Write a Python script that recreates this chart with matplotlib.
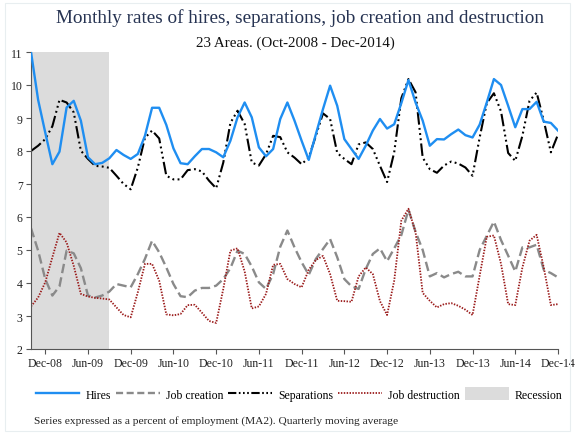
import matplotlib
matplotlib.use("Agg")
import matplotlib.pyplot as plt
from matplotlib.patches import Patch, Rectangle
from matplotlib.lines import Line2D

plt.rcParams['font.family'] = ['Liberation Serif', 'DejaVu Serif']

# monthly index, Oct-2008 = 0 ... Dec-2014 = 74
months = list(range(75))

hires = [11.0, 9.55, 8.56, 7.6, 7.98, 9.32, 9.52, 8.92, 7.81, 7.6,
         7.64, 7.78, 8.03, 7.88, 7.76, 7.91, 8.46, 9.31, 9.31, 8.79,
         8.08, 7.63, 7.6, 7.84, 8.06, 8.06, 7.96, 7.81, 8.31, 9.02,
         9.47, 9.02, 8.11, 7.84, 8.06, 8.97, 9.47, 8.92, 8.31, 7.73,
         8.51, 9.27, 9.98, 9.37, 8.36, 8.06, 7.76, 8.16, 8.62, 8.97,
         8.68, 8.81, 9.45, 10.15, 9.47, 8.92, 8.16, 8.36, 8.35, 8.51,
         8.65, 8.48, 8.41, 8.8, 9.47, 10.18, 10.0, 9.37, 8.72, 9.27,
         9.27, 9.49, 8.89, 8.85, 8.62]

separations = [8.0, 8.16, 8.36, 8.75, 9.55, 9.47, 9.17, 8.01, 7.76, 7.55,
               7.53, 7.49, 7.25, 7.0, 6.84, 7.5, 8.4, 8.62, 8.38, 7.25,
               7.14, 7.14, 7.42, 7.45, 7.38, 7.1, 6.87, 7.65, 8.85, 9.22,
               8.82, 7.65, 7.56, 7.9, 8.46, 8.42, 7.96, 7.8, 7.6, 7.8,
               8.46, 9.14, 8.97, 7.94, 7.76, 7.6, 8.2, 8.26, 8.06, 7.55,
               7.06, 7.96, 9.6, 10.18, 9.78, 7.8, 7.45, 7.34, 7.56, 7.68,
               7.62, 7.5, 7.25, 8.41, 9.45, 9.75, 9.2, 7.94, 7.7, 8.46,
               9.52, 9.77, 8.92, 7.96, 8.5]

job_creation = [5.66, 4.98, 4.12, 3.62, 3.9, 4.98, 4.9, 4.45, 3.62, 3.56,
                3.62, 3.74, 3.97, 3.92, 3.87, 4.27, 4.73, 5.28, 4.93, 4.47,
                3.97, 3.6, 3.57, 3.77, 3.85, 3.85, 3.92, 4.12, 4.45, 4.98,
                4.88, 4.5, 4.02, 3.82, 4.27, 5.1, 5.59, 5.08, 4.63, 4.25,
                4.73, 5.03, 5.33, 4.78, 4.12, 3.9, 3.82, 4.42, 4.88, 5.05,
                4.66, 5.05, 5.45, 6.22, 5.55, 5.0, 4.2, 4.3, 4.17, 4.27,
                4.34, 4.2, 4.2, 5.0, 5.43, 5.86, 5.3, 4.83, 4.35, 5.08,
                5.08, 5.16, 4.4, 4.3, 4.17]

job_destruction = [3.29, 3.56, 4.02, 4.78, 5.52, 5.23, 4.52, 3.67, 3.59, 3.55,
                   3.53, 3.5, 3.26, 3.03, 2.96, 3.72, 4.58, 4.58, 4.07, 3.05,
                   3.02, 3.06, 3.33, 3.34, 3.1, 2.85, 2.79, 3.82, 4.98, 5.05,
                   4.35, 3.23, 3.29, 3.67, 4.55, 4.58, 4.12, 3.97, 3.87, 4.4,
                   4.7, 4.82, 4.27, 3.46, 3.45, 3.43, 4.2, 4.47, 4.27, 3.45,
                   3.03, 4.07, 5.89, 6.25, 5.54, 3.7, 3.46, 3.26, 3.36, 3.39,
                   3.31, 3.19, 3.03, 4.22, 5.4, 5.44, 4.58, 3.36, 3.33, 4.47,
                   5.28, 5.46, 4.47, 3.33, 3.36]

recession = (0, 11)  # Oct-2008 .. Sep-2009

tick_pos = [2, 8, 14, 20, 26, 32, 38, 44, 50, 56, 62, 68, 74]
tick_labels = ['Dec-08', 'Jun-09', 'Dec-09', 'Jun-10', 'Dec-10', 'Jun-11',
               'Dec-11', 'Jun-12', 'Dec-12', 'Jun-13', 'Dec-13', 'Jun-14',
               'Dec-14']
y_ticks = [2, 3, 4, 5, 6, 7, 8, 9, 10, 11]

c_hires = '#1f8ef1'
c_creation = '#8a8a8a'
c_sep = '#000000'
c_destr = '#9b1b1b'
c_rec = '#dcdcdc'
sep_style = (0, (6, 1.6, 0.9, 1.6, 0.9, 1.6, 0.9, 1.6))

fig = plt.figure(figsize=(5.75, 4.35), dpi=100)
ax = fig.add_axes([31 / 575, 1 - 350 / 435, 527 / 575, 297 / 435])

ax.axvspan(*recession, color=c_rec, lw=0, zorder=0)
ax.plot(months, hires, color=c_hires, lw=1.7, zorder=3)
ax.plot(months, job_creation, color=c_creation, lw=1.7,
        linestyle=(0, (4, 1.8)), zorder=2)
ax.plot(months, separations, color=c_sep, lw=1.5, linestyle=sep_style, zorder=2)
ax.plot(months, job_destruction, color=c_destr, lw=1.3,
        linestyle=(0, (0.8, 0.8)), zorder=2)

ax.set_xlim(0, 74)
ax.set_ylim(2, 11)
ax.set_xticks(tick_pos)
ax.set_xticklabels(tick_labels)
ax.set_yticks(y_ticks)
for s in ['top', 'right']:
    ax.spines[s].set_visible(False)
for s in ['left', 'bottom']:
    ax.spines[s].set_color('#555555')
    ax.spines[s].set_linewidth(0.8)
ax.tick_params(axis='both', colors='#555555', labelcolor='#222222',
               labelsize=8.5, length=3.5, width=0.8, pad=2.5)

# titles
fig.text(300 / 575, 1 - 18 / 435, 'Monthly rates of hires, separations, job creation and destruction',
         ha='center', va='center', fontsize=13.8, color='#263352')
fig.text(295 / 575, 1 - 43 / 435, '23 Areas. (Oct-2008 - Dec-2014)',
         ha='center', va='center', fontsize=10.8, color='#111111')

handles = [
    Line2D([], [], color=c_hires, lw=1.7),
    Line2D([], [], color=c_creation, lw=1.7, linestyle=(0, (3, 1.5))),
    Line2D([], [], color=c_sep, lw=1.5, linestyle=(0, (4, 1.2, 0.8, 1.2, 0.8, 1.2, 0.8, 1.2))),
    Line2D([], [], color=c_destr, lw=1.3, linestyle=(0, (0.8, 0.8))),
    Patch(facecolor=c_rec, edgecolor='none'),
]
labels = ['Hires', 'Job creation', 'Separations', 'Job destruction', 'Recession']
fig.legend(handles, labels, loc='center', bbox_to_anchor=(299 / 575, 1 - 395 / 435),
           ncol=5, frameon=False, fontsize=8.5, handlelength=3.7,
           handletextpad=0.5, columnspacing=0.45, handleheight=1.3)

fig.text(34 / 575, 1 - 421 / 435,
         'Series expressed as a percent of employment (MA2). Quarterly moving average',
         ha='left', va='center', fontsize=8.2, color='#222222')

fig.patches.append(Rectangle((5 / 575, 1 - 432 / 435), 565 / 575, 428 / 435,
                             transform=fig.transFigure, fill=False,
                             edgecolor='#e8eef0', lw=0.8))

fig.savefig('out.png', dpi=100)
